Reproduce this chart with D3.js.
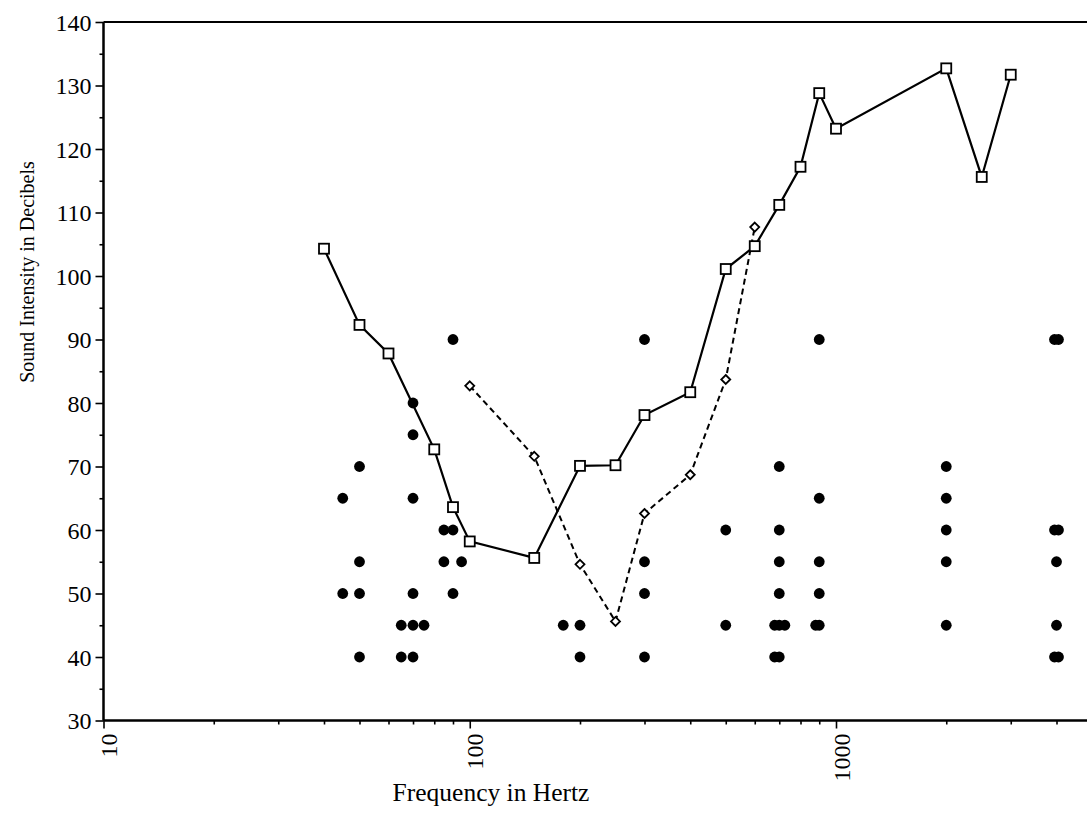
<!DOCTYPE html>
<html>
<head>
<meta charset="utf-8">
<script src="https://cdn.jsdelivr.net/npm/d3@7/dist/d3.min.js"></script>
<style>
  html, body { margin: 0; padding: 0; background: #fff; }
  svg { display: block; }
  text { font-family: "Liberation Serif", "Times New Roman", serif; fill: #000; }
</style>
</head>
<body>
<svg id="chart" width="1087" height="832"></svg>
<script>
// ---- data ----
const solidFreq = [40, 50, 60, 80, 90, 100, 150, 200, 250, 300, 400, 500, 600, 700, 800, 900, 1000, 2000, 2500, 3000];
const solidDb   = [104.3, 92.3, 87.8, 72.7, 63.6, 58.2, 55.6, 70.1, 70.2, 78.1, 81.7, 101.1, 104.7, 111.2, 117.2, 128.8, 123.2, 132.7, 115.6, 131.7];

const dashedFreq = [100, 150, 200, 250, 300, 400, 500, 600];
const dashedDb   = [82.7, 71.6, 54.6, 45.6, 62.6, 68.7, 83.7, 107.7];

const dotFreq = [45, 45, 50, 50, 50, 50, 65, 65, 70, 70, 70, 70, 70, 70, 75, 85, 85, 90, 90, 90, 95,
                 180, 200, 200, 300, 300, 300, 300, 500, 500, 680, 680, 700, 700, 700, 700, 700, 700, 725,
                 880, 900, 900, 900, 900, 900, 2000, 2000, 2000, 2000, 2000,
                 3950, 3950, 3950, 4050, 4050, 4050, 4000, 4000];
const dotDb   = [65, 50, 70, 55, 50, 40, 45, 40, 80, 75, 65, 50, 45, 40, 45, 60, 55, 90, 60, 50, 55,
                 45, 45, 40, 90, 55, 50, 40, 60, 45, 45, 40, 70, 60, 55, 50, 45, 40, 45,
                 45, 90, 65, 55, 50, 45, 70, 65, 60, 55, 45,
                 90, 60, 40, 90, 60, 40, 55, 45];

const xMajorTicks = [10, 100, 1000];
const xMinorTicks = [20, 30, 40, 50, 60, 70, 80, 90, 200, 300, 400, 500, 600, 700, 800, 900, 2000, 3000, 4000];
const yMajorTicks = [30, 40, 50, 60, 70, 80, 90, 100, 110, 120, 130, 140];
const yMinorTicks = [35, 45, 55, 65, 75, 85, 95, 105, 115, 125, 135];

const xTitle = "Frequency in Hertz";
const yTitle = "Sound Intensity in Decibels";

// ---- layout ----
const svg = d3.select("#chart");
const x0 = 103.5, decade = 366.25;
const x = d3.scaleLog().domain([10, 5000]).range([x0, x0 + Math.log10(500) * decade]);
const y = d3.scaleLinear().domain([30, 140]).range([720.5, 22]);
const W = 1087;
const serif = '"Liberation Serif", "Times New Roman", serif';

// top border
svg.append("line").attr("x1", x0).attr("x2", W).attr("y1", y(140)).attr("y2", y(140))
  .attr("stroke", "#000").attr("stroke-width", 2);

// y axis
const yAxis = svg.append("g").attr("transform", `translate(${x0},0)`);
yAxis.call(d3.axisLeft(y).tickValues(yMajorTicks).tickSize(8).tickPadding(4).tickFormat(d3.format("d")));
yAxis.append("g").call(d3.axisLeft(y).tickValues(yMinorTicks).tickSize(4).tickFormat(""));
yAxis.selectAll(".domain").attr("stroke-width", 2).attr("d", `M0,${y(30)}V${y(140)}`);
yAxis.selectAll("line").attr("stroke-width", 1.6);
yAxis.selectAll("text").attr("font-size", 24).attr("dy", null).attr("dominant-baseline", "central")
  .style("font-family", serif);

// x axis
const xAxis = svg.append("g").attr("transform", `translate(0,${y(30)})`);
xAxis.call(d3.axisBottom(x).tickValues(xMajorTicks).tickSize(8).tickFormat(d3.format("d")));
xAxis.append("g").call(d3.axisBottom(x).tickValues(xMinorTicks).tickSize(4).tickFormat(""));
xAxis.selectAll(".domain").attr("stroke-width", 2).attr("d", `M${x0},0H${W}`);
xAxis.selectAll("line").attr("stroke-width", 1.6);
xAxis.selectAll(".tick text")
  .attr("font-size", 24)
  .attr("y", null).attr("dy", null)
  .attr("dominant-baseline", "central")
  .attr("text-anchor", "end")
  .attr("transform", "translate(5,13) rotate(-90)")
  .style("font-family", serif);

// titles
svg.append("text").attr("x", 491).attr("y", 801).attr("text-anchor", "middle")
  .attr("font-size", 25.5).text(xTitle);
svg.append("text").attr("transform", "translate(34,272) rotate(-90)").attr("text-anchor", "middle")
  .attr("font-size", 20).text(yTitle);

// lines
const solid = solidFreq.map((f, i) => [f, solidDb[i]]);
const dashed = dashedFreq.map((f, i) => [f, dashedDb[i]]);
const line = d3.line().x(d => x(d[0])).y(d => y(d[1]));

svg.append("path").attr("d", line(solid)).attr("fill", "none").attr("stroke", "#000").attr("stroke-width", 2.2);
svg.append("path").attr("d", line(dashed)).attr("fill", "none").attr("stroke", "#000").attr("stroke-width", 2)
  .attr("stroke-dasharray", "6,4");

// dots
const dots = dotFreq.map((f, i) => [f, dotDb[i]]);
svg.append("g").selectAll("circle").data(dots).join("circle")
  .attr("cx", d => x(d[0])).attr("cy", d => y(d[1])).attr("r", 5.4).attr("fill", "#000");

// squares
const sq = 10;
svg.append("g").selectAll("rect").data(solid).join("rect")
  .attr("x", d => x(d[0]) - sq / 2).attr("y", d => y(d[1]) - sq / 2)
  .attr("width", sq).attr("height", sq)
  .attr("fill", "#fff").attr("stroke", "#000").attr("stroke-width", 1.8);

// diamonds
const dm = 4.5;
svg.append("g").selectAll("path").data(dashed).join("path")
  .attr("d", d => {
    const cx = x(d[0]), cy = y(d[1]);
    return `M${cx},${cy - dm}L${cx + dm},${cy}L${cx},${cy + dm}L${cx - dm},${cy}Z`;
  })
  .attr("fill", "#fff").attr("stroke", "#000").attr("stroke-width", 1.8);
</script>
</body>
</html>
